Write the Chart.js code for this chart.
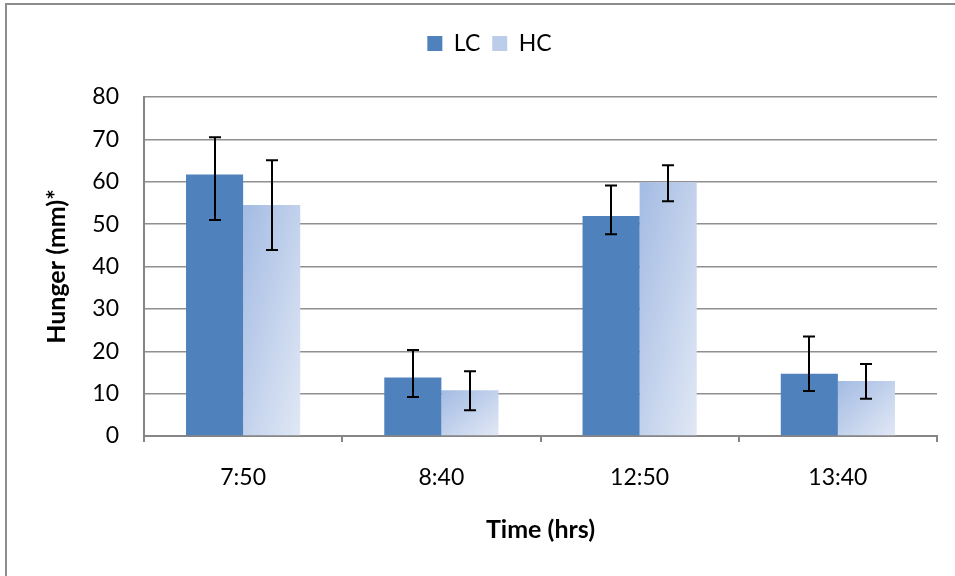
<!DOCTYPE html>
<html>
<head>
<meta charset="utf-8">
<script src="https://cdn.jsdelivr.net/npm/chart.js@4.4.1/dist/chart.umd.min.js"></script>
<style>
  html, body { margin: 0; padding: 0; background: #fff; overflow: hidden; }
  #frame { position: absolute; left: 5px; top: 3px; width: 1000px; height: 700px;
           border-left: 2px solid #8d8d8d; border-top: 2px solid #8d8d8d; }
  #wrap { position: absolute; left: 0; top: 0; width: 955px; height: 576px; }
</style>
</head>
<body>
<div id="frame"></div>
<div id="wrap"><canvas id="hunger-chart" width="955" height="576"></canvas></div>
<script>
// Time points and hunger ratings (mm)
const times = ['7:50', '8:40', '12:50', '13:40'];
const lcValues = [61.7, 13.8, 51.9, 14.7];
const hcValues = [54.5, 10.8, 59.9, 13.0];

// error bar ends
const lcLow = [51.0, 9.2, 47.6, 10.6];
const lcHigh = [70.5, 20.3, 59.1, 23.5];
const hcLow = [43.9, 6.1, 55.4, 8.8];
const hcHigh = [65.1, 15.3, 63.9, 17.0];

const yTicks = [0, 10, 20, 30, 40, 50, 60, 70, 80];

Chart.defaults.font.family = 'Lato, Carlito, Calibri, sans-serif';
Chart.defaults.color = '#000';

// Fix legend block height so the plot starts where the original does
const legendHeight = {
  id: 'legendHeight',
  beforeInit(chart) {
    const fit = chart.legend.fit;
    chart.legend.fit = function () {
      fit.call(this);
      this.height = 77;
    };
  }
};

// Diagonal gradient on each HC bar (Excel style)
const hcGradient = {
  id: 'hcGradient',
  beforeDatasetsDraw(chart) {
    const ctx = chart.ctx;
    chart.getDatasetMeta(1).data.forEach(bar => {
      const { x, y, base, width } = bar.getProps(['x', 'y', 'base', 'width'], true);
      const left = x - width / 2;
      const w = width, h = base - y;
      const t = (2 * w * h) / (w * w + h * h);
      const g = ctx.createLinearGradient(left, y, left + t * h, y + t * w);
      g.addColorStop(0, '#A3BBE3');
      g.addColorStop(1, '#E1E8F5');
      bar.options.backgroundColor = g;
    });
  }
};

const errorBars = {
  id: 'errorBars',
  afterDatasetsDraw(chart) {
    const { ctx, scales: { y } } = chart;
    ctx.save();
    ctx.strokeStyle = '#000';
    ctx.lineWidth = 2;
    [[lcLow, lcHigh], [hcLow, hcHigh]].forEach(([low, high], di) => {
      chart.getDatasetMeta(di).data.forEach((bar, i) => {
        const x = Math.round(bar.x);
        const top = y.getPixelForValue(high[i]);
        const bot = y.getPixelForValue(low[i]);
        ctx.beginPath();
        ctx.moveTo(x, top); ctx.lineTo(x, bot);
        ctx.moveTo(x - 6, top); ctx.lineTo(x + 6, top);
        ctx.moveTo(x - 6, bot); ctx.lineTo(x + 6, bot);
        ctx.stroke();
      });
    });
    ctx.restore();
  }
};

new Chart(document.getElementById('hunger-chart'), {
  type: 'bar',
  data: {
    labels: times,
    datasets: [
      {
        label: 'LC',
        data: lcValues,
        backgroundColor: '#4F81BD',
        barPercentage: 1,
        categoryPercentage: 0.576
      },
      {
        label: 'HC',
        data: hcValues,
        backgroundColor: () => '#BCCDEB',
        barPercentage: 1,
        categoryPercentage: 0.576
      }
    ]
  },
  options: {
    responsive: false,
    devicePixelRatio: 1,
    animation: false,
    events: [],
    layout: { padding: { top: 20, left: 42, right: 18, bottom: 31 } },
    plugins: {
      legend: {
        position: 'top',
        labels: { boxWidth: 15, boxHeight: 15, padding: 12, font: { size: 23 } }
      },
      tooltip: { enabled: false }
    },
    scales: {
      x: {
        afterFit: s => { s.height = 109; },
        grid: { drawOnChartArea: false, drawTicks: true, tickLength: 6, color: '#868686', lineWidth: 2 },
        border: { color: '#868686', width: 2 },
        ticks: { padding: 22, font: { size: 23 } },
        title: { display: true, text: 'Time (hrs)', padding: 0, font: { size: 25, weight: 'bold' } }
      },
      y: {
        min: 0,
        max: 80,
        afterFit: s => { s.width = 102; },
        afterBuildTicks: s => { s.ticks = yTicks.map(v => ({ value: v })); },
        grid: { drawTicks: false, color: '#8f8f8f', lineWidth: 1.5 },
        border: { color: '#868686', width: 2 },
        ticks: { padding: 25, font: { size: 23 } },
        title: { display: true, text: 'Hunger (mm)*', padding: 0, font: { size: 25, weight: 'bold' } }
      }
    }
  },
  plugins: [legendHeight, hcGradient, errorBars]
});
</script>
</body>
</html>
